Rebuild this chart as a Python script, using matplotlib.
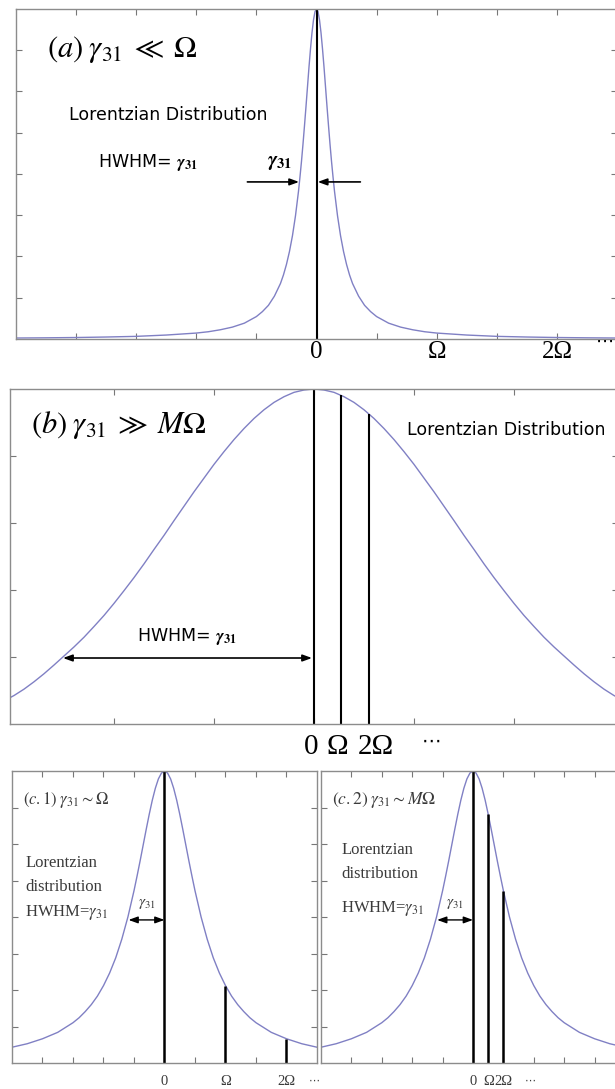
import numpy as np
import matplotlib
matplotlib.use("Agg")
import matplotlib.pyplot as plt

plt.rcParams['mathtext.fontset'] = 'stix'
plt.rcParams['font.family'] = ['Liberation Serif', 'DejaVu Serif']

# --- profile heights read off at distance d from line centre (tick units) ---
# (a) narrow line, gamma31 << Omega
a_dist = [0, 0.025, 0.05, 0.075, 0.1, 0.125, 0.15, 0.175, 0.2, 0.225, 0.25,
          0.275, 0.3, 0.35, 0.4, 0.45, 0.5, 0.55, 0.6, 0.7, 0.8, 0.9, 1.0,
          1.2, 1.4, 1.6, 1.8, 2.0, 2.5, 3.0, 3.5, 4.0, 4.5, 5.0]
a_height = [1.0, 0.992, 0.967, 0.928, 0.879, 0.824, 0.764, 0.704, 0.646, 0.590,
            0.538, 0.491, 0.447, 0.373, 0.313, 0.265, 0.226, 0.194, 0.168, 0.130,
            0.102, 0.083, 0.068, 0.048, 0.036, 0.028, 0.022, 0.018, 0.012, 0.008,
            0.006, 0.0045, 0.0036, 0.003]
a_line_pos = [0]
a_line_h = [1.0]
a_labels = ['0', 'Ω', '2Ω']
a_label_pos = [0, 2, 4]

# (b) broad line, gamma31 >> M Omega
b_dist = [0, 0.1, 0.2, 0.3, 0.4, 0.5, 0.6, 0.7, 0.8, 0.9, 1.0, 1.1, 1.2, 1.3,
          1.4, 1.5, 1.6, 1.7, 1.8, 1.9, 2.0, 2.1, 2.2, 2.3, 2.4, 2.5, 2.6, 2.7,
          2.8, 2.9, 3.0, 3.05]
b_height = [1.0, 0.997, 0.990, 0.977, 0.960, 0.938, 0.912, 0.882, 0.849, 0.813,
            0.775, 0.734, 0.693, 0.650, 0.607, 0.563, 0.521, 0.478, 0.437, 0.398,
            0.360, 0.324, 0.291, 0.259, 0.230, 0.203, 0.176, 0.150, 0.126, 0.104,
            0.085, 0.077]
b_line_pos = [0, 0.27, 0.55]
b_line_h = [1.0, 0.982, 0.925]
b_labels = ['0', 'Ω', '2Ω']
b_label_pos = [-0.03, 0.23, 0.62]

# (c.1) / (c.2) intermediate widths
c_dist = [0, 0.1, 0.2, 0.3, 0.4, 0.5, 0.6, 0.7, 0.8, 0.9, 1.0, 1.2, 1.4, 1.6,
          1.8, 2.0, 2.2, 2.4, 2.6, 2.8, 3.0, 3.5, 4.0, 4.5, 5.0]
c_height = [1.0, 0.993, 0.973, 0.941, 0.900, 0.852, 0.800, 0.746, 0.692, 0.640,
            0.590, 0.500, 0.424, 0.360, 0.308, 0.265, 0.229, 0.200, 0.176, 0.155,
            0.138, 0.105, 0.083, 0.066, 0.054]
c1_line_pos = [0, 2, 4]
c1_line_h = [1.0, 0.265, 0.083]
c2_line_pos = [0, 0.5, 1.0]
c2_line_h = [1.0, 0.852, 0.590]
c_labels = ['0', 'Ω', '2Ω']

CURVE = '#8080c4'
SPINE = '#8c8c8c'
W, H = 615, 1089

fig = plt.figure(figsize=(W / 100, H / 100), dpi=100)


def make_axes(left, top, right, bottom):
    ax = fig.add_axes([left / W, 1 - bottom / H, (right - left) / W, (bottom - top) / H])
    for s in ax.spines.values():
        s.set_color(SPINE)
        s.set_linewidth(1.0)
    ax.tick_params(direction='in', top=True, right=True, length=4, width=0.8,
                   colors='#777777', labelbottom=False, labelleft=False)
    return ax


def mirror(dist, height):
    d = np.asarray(dist)
    h = np.asarray(height)
    return np.concatenate([-d[::-1], d[1:]]), np.concatenate([h[::-1], h[1:]])


def arrow(ax, start, end, both=False, lw=1.2):
    style = '<|-|>' if both else '-|>'
    ax.annotate('', xy=end, xytext=start,
                arrowprops=dict(arrowstyle=style + ',head_length=0.55,head_width=0.2',
                                color='black', lw=lw, shrinkA=0, shrinkB=0))


# ---------------- (a) ----------------
ax = make_axes(16, 9, 617, 339)
x, y = mirror(a_dist, a_height)
ax.plot(x, y, color=CURVE, lw=1.0)
ax.vlines(a_line_pos, 0, a_line_h, color='black', lw=1.5)
ax.set_xlim(-5, 5)
ax.set_ylim(0, 1)
ax.set_xticks(np.arange(-4, 5))
ax.set_yticks(np.arange(1, 8) / 8)
ax.text(0.052, 0.876, r'$(a)\;\gamma_{31}\;\ll\;\Omega$', transform=ax.transAxes,
        fontsize=22, ha='left', va='center')
ax.text(0.253, 0.68, 'Lorentzian Distribution', transform=ax.transAxes,
        fontsize=12.5, family='DejaVu Sans', ha='center', va='center')
ax.text(0.22, 0.535, r'HWHM= $\boldsymbol{\gamma}_{\mathbf{31}}$', transform=ax.transAxes,
        fontsize=12.5, family='DejaVu Sans', ha='center', va='center')
ax.text(-0.62, 0.535, r'$\boldsymbol{\gamma}_{\mathbf{31}}$', fontsize=15,
        ha='center', va='center')
arrow(ax, (-1.15, 0.476), (-0.29, 0.476))
arrow(ax, (0.73, 0.476), (0.02, 0.476))
tr = ax.get_xaxis_transform()
for pos, lab in zip(a_label_pos, a_labels):
    ax.text(pos, -0.04, lab, transform=tr, fontsize=18,
            ha='center', va='center', clip_on=False)
ax.text(4.8, -0.01, '⋯', transform=tr, fontsize=13, family=['DejaVu Sans'],
        ha='center', va='center')

# ---------------- (b) ----------------
ax = make_axes(10, 389, 618, 724)
x, y = mirror(b_dist, b_height)
ax.plot(x, y, color=CURVE, lw=1.0)
ax.vlines(b_line_pos, 0, b_line_h, color='black', lw=1.5)
ax.set_xlim(-3.04, 3.04)
ax.set_ylim(0, 1)
ax.set_xticks(np.arange(-2, 3))
ax.set_yticks([0.2, 0.4, 0.6, 0.8])
ax.text(0.035, 0.893, r'$(b)\;\gamma_{31}\;\gg\;M\Omega$', transform=ax.transAxes,
        fontsize=22, ha='left', va='center')
ax.text(0.816, 0.878, 'Lorentzian Distribution', transform=ax.transAxes,
        fontsize=12.5, family='DejaVu Sans', ha='center', va='center')
ax.text(0.291, 0.26, r'HWHM= $\boldsymbol{\gamma}_{\mathbf{31}}$', transform=ax.transAxes,
        fontsize=12.5, family='DejaVu Sans', ha='center', va='center')
arrow(ax, (-2.51, 0.197), (-0.02, 0.197), both=True)
tr = ax.get_xaxis_transform()
for pos, lab in zip(b_label_pos, b_labels):
    ax.text(pos, -0.07, lab, transform=tr, fontsize=21,
            ha='center', va='center')
ax.text(1.17, -0.05, '⋯', transform=tr, fontsize=14, family=['DejaVu Sans'],
        ha='center', va='center')

# ---------------- (c.1) and (c.2) ----------------
panels = [
    (12, 317, c1_line_pos, c1_line_h, r'$(c.1)\;\gamma_{31}\sim\Omega$', 12,
     (0.043, 0.685, 0.603, 0.517), 4.9),
    (321, 625, c2_line_pos, c2_line_h, r'$(c.2)\;\gamma_{31}\sim M\Omega$', 12.5,
     (0.066, 0.73, 0.647, 0.53), 1.9),
]
for left, right, lpos, lh, title, tsize, tpos, dots_x in panels:
    ax = make_axes(left, 771, right, 1063)
    x, y = mirror(c_dist, c_height)
    ax.plot(x, y, color=CURVE, lw=1.0)
    ax.vlines(lpos, 0, lh, color='black', lw=1.8)
    ax.set_xlim(-5, 5)
    ax.set_ylim(0, 1)
    ax.set_xticks(np.arange(-4, 5))
    ax.set_yticks(np.arange(1, 8) / 8)
    grey = '#3a3a3a'
    ax.text(0.035, 0.90, title, transform=ax.transAxes, fontsize=tsize, color=grey,
            ha='left', va='center')
    tx, y1, y2, y3 = tpos
    for ty, line in zip((y1, y2, y3), ('Lorentzian', 'distribution', r'HWHM=$\gamma_{31}$')):
        ax.text(tx, ty, line, transform=ax.transAxes, fontsize=12, color=grey,
                ha='left', va='center')
    ax.text(-0.58, 0.545, r'$\gamma_{31}$', fontsize=11, color=grey,
            ha='center', va='center')
    arrow(ax, (-1.18, 0.49), (0.0, 0.49), both=True, lw=1.0)
    tr = ax.get_xaxis_transform()
    for pos, lab in zip(lpos, c_labels):
        ax.text(pos, -0.065, lab, transform=tr, fontsize=10.5, color=grey,
                ha='center', va='center')
    ax.text(dots_x, -0.06, '⋯', transform=tr, fontsize=8, color=grey,
            family=['DejaVu Sans'], ha='center', va='center')

fig.savefig('out.png', dpi=100)
